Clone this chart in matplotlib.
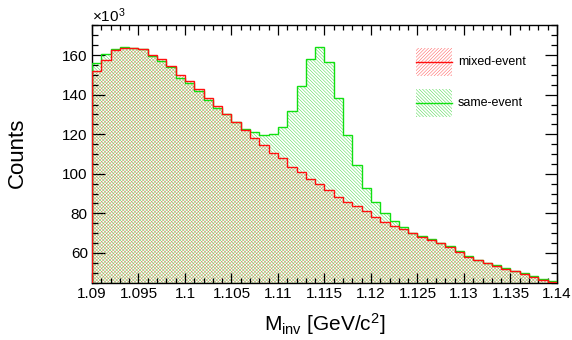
import numpy as np
import matplotlib
matplotlib.use("Agg")
import matplotlib.pyplot as plt
from matplotlib.patches import Rectangle
from matplotlib.ticker import MultipleLocator, FixedLocator

plt.rcParams['font.family'] = ['Liberation Sans', 'DejaVu Sans']
plt.rcParams['mathtext.fontset'] = 'custom'
plt.rcParams['mathtext.rm'] = 'Liberation Sans'
plt.rcParams['mathtext.it'] = 'Liberation Sans:italic'
plt.rcParams['hatch.linewidth'] = 0.33

# ---- data (counts in units of 10^3) ----
bin_lo = 1.09
bin_width = 0.001
mixed_event = [152.0, 157.5, 162.5, 163.4, 163.4, 162.9, 160.0, 157.8, 154.4, 150.1,
               146.7, 142.7, 138.5, 134.5, 130.1, 126.3, 122.3, 118.1, 114.5, 110.5,
               107.8, 103.6, 100.7, 97.3, 94.7, 91.6, 88.2, 85.9, 83.7, 81.4,
               78.3, 75.8, 73.6, 72.0, 69.9, 68.3, 66.6, 64.9, 63.2, 60.7,
               58.0, 56.3, 54.8, 53.4, 52.0, 50.7, 49.4, 47.9, 46.5, 45.2]
same_event = [155.8, 160.5, 162.9, 164.2, 163.7, 162.9, 159.5, 157.0, 153.9, 148.2,
              145.7, 141.8, 137.3, 133.5, 130.0, 126.0, 122.5, 121.3, 119.6, 120.2,
              123.8, 131.7, 144.3, 157.8, 164.2, 156.6, 138.4, 119.4, 104.3, 92.7,
              85.6, 80.4, 76.3, 73.0, 70.1, 68.5, 66.8, 65.1, 63.4, 60.9,
              58.3, 56.6, 55.0, 53.7, 52.4, 51.0, 49.7, 48.2, 46.9, 45.9]
labels = ["mixed-event", "same-event"]
x_ticks = [1.09, 1.095, 1.1, 1.105, 1.11, 1.115, 1.12, 1.125, 1.13, 1.135, 1.14]
x_tick_labels = ["1.09", "1.095", "1.1", "1.105", "1.11", "1.115", "1.12", "1.125", "1.13", "1.135", "1.14"]
y_ticks = [60, 80, 100, 120, 140, 160]
y_tick_labels = ["60", "80", "100", "120", "140", "160"]

ymin, ymax = 44.8, 175.2
RED = '#ff1010'
GREEN = '#10e010'
RED_H = '#d86a3a'
GREEN_H = '#3cd43c'
H_RED = '/' * 10
H_GREEN = '\\' * 10

mixed = np.array(mixed_event)
same = np.array(same_event)
edges = bin_lo + bin_width * np.arange(len(mixed) + 1)

fig = plt.figure(figsize=(5.72, 3.4), dpi=100)
ax = fig.add_axes([92/572, 1 - 283/340, 465/572, 258/340])

# hatched fills
ax.fill_between(edges, np.append(same, same[-1]), ymin, step='post',
                facecolor='none', edgecolor=GREEN_H, hatch=H_GREEN, linewidth=0, zorder=1)
ax.fill_between(edges, np.append(mixed, mixed[-1]), ymin, step='post',
                facecolor='none', edgecolor=RED_H, hatch=H_RED, linewidth=0, zorder=1)
# outlines
ax.stairs(same, edges, baseline=ymin, color=GREEN, linewidth=1.0, zorder=3)
ax.stairs(mixed, edges, baseline=ymin, color=RED, linewidth=1.0, zorder=4)

ax.set_xlim(edges[0], edges[-1])
ax.set_ylim(ymin, ymax)

ax.xaxis.set_major_locator(FixedLocator(x_ticks))
ax.set_xticklabels(x_tick_labels)
ax.xaxis.set_minor_locator(MultipleLocator(0.001))
ax.yaxis.set_major_locator(FixedLocator(y_ticks))
ax.set_yticklabels(y_tick_labels)
ax.yaxis.set_minor_locator(MultipleLocator(5))
ax.tick_params(which='both', direction='in', top=True, right=True, labelsize=11, width=0.9)
ax.tick_params(which='major', axis='y', length=9, pad=3)
ax.tick_params(which='minor', axis='y', length=4.5)
ax.tick_params(which='major', axis='x', length=7, pad=3)
ax.tick_params(which='minor', axis='x', length=3.5)
for s in ax.spines.values():
    s.set_linewidth(1.0)

# legend (no frame), drawn in axes-fraction coordinates
leg_x0, leg_w, leg_h = 0.697, 0.077, 0.11
leg_rows = [(0.802, RED, '#ff5050', H_RED), (0.643, GREEN, GREEN_H, H_GREEN)]
for (y0, col, hcol, h), lab in zip(leg_rows, labels):
    ax.add_patch(Rectangle((leg_x0, y0), leg_w, leg_h, transform=ax.transAxes,
                           facecolor='none', edgecolor=hcol, hatch=h, linewidth=0, zorder=5))
    ax.plot([leg_x0, leg_x0 + leg_w], [y0 + leg_h/2, y0 + leg_h/2], transform=ax.transAxes,
            color=col, linewidth=1.0, zorder=6)
    ax.text(leg_x0 + leg_w + 0.013, y0 + leg_h/2, lab, transform=ax.transAxes,
            fontsize=9, va='center', ha='left', zorder=6)

fig.text(92/572, 1 - 22/340, r'$\times10^{3}$', fontsize=11, ha='left', va='baseline')
fig.text(325/572, 1 - 331/340, r'$\mathrm{M_{inv}\ [GeV/c^{2}]}$', fontsize=15,
         ha='center', va='baseline')
fig.text(17/572, 1 - 153/340, 'Counts', fontsize=16, rotation=90, ha='center', va='center')

fig.savefig('out.png', dpi=100)
